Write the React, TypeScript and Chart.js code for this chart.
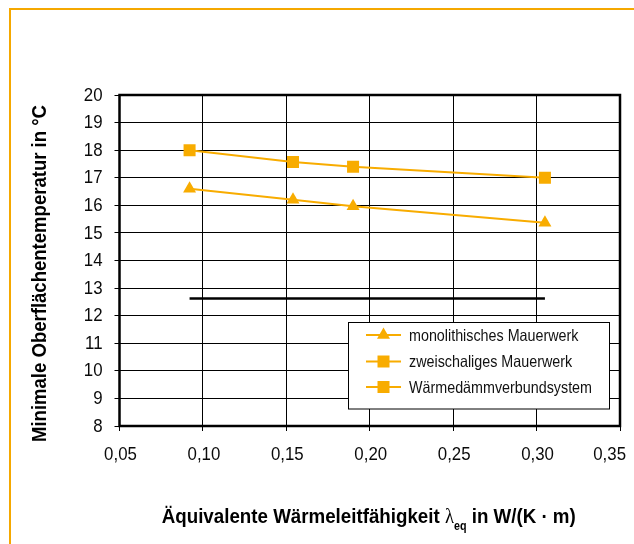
import React, { useEffect, useRef } from "react";
import { Chart, registerables } from "chart.js";

Chart.register(...registerables);

const xValues = [0.092, 0.154, 0.19, 0.305];
const monolithisch = [16.6, 16.2, 15.97, 15.37];
const zweischalig = [18.0, 17.57, 17.4, 17.0];
const wdvs = [12.62, 12.62, 12.62, 12.62];
const seriesNames = ["monolithisches Mauerwerk", "zweischaliges Mauerwerk", "Wärmedämmverbundsystem"];
const yTitle = "Minimale Oberflächentemperatur in °C";
const xTitleA = "Äquivalente Wärmeleitfähigkeit ";
const xTitleLambda = "λ";
const xTitleSub = "eq";
const xTitleB = " in W/(K · m)";

const ORANGE = "#F8AC00";
const FONT = "'Liberation Sans', Arial, sans-serif";

function pts(ys: number[]) {
  return xValues.map((x, i) => ({ x, y: ys[i] }));
}

function fmtX(v: number) {
  return v.toFixed(2).replace(".", ",");
}

// draw horizontally condensed text
function condText(
  ctx: CanvasRenderingContext2D,
  text: string,
  x: number,
  y: number,
  font: string,
  sx: number,
  align: "left" | "center" | "right",
  baseline: CanvasTextBaseline,
  maxRight?: number
) {
  ctx.save();
  ctx.font = font;
  ctx.textBaseline = baseline;
  const w = ctx.measureText(text).width * sx;
  let left = x;
  if (align === "center") left = x - w / 2;
  else if (align === "right") left = x - w;
  if (maxRight !== undefined && left + w > maxRight) left = maxRight - w;
  ctx.translate(left, y);
  ctx.scale(sx, 1);
  ctx.textAlign = "left";
  ctx.fillText(text, 0, 0);
  ctx.restore();
  return w;
}

const framePlugin = {
  id: "frame",
  afterDatasetsDraw(chart: any) {
    const { ctx, chartArea: a } = chart;
    ctx.save();
    ctx.strokeStyle = "#000";
    ctx.lineWidth = 2.5;
    ctx.strokeRect(a.left, a.top, a.right - a.left, a.bottom - a.top);
    ctx.restore();
  },
};

function drawMarker(ctx: CanvasRenderingContext2D, style: string, x: number, y: number) {
  ctx.fillStyle = ORANGE;
  ctx.beginPath();
  if (style === "triangle") {
    const r = 7.5;
    ctx.moveTo(x, y - r);
    ctx.lineTo(x + r * 0.866, y + r / 2);
    ctx.lineTo(x - r * 0.866, y + r / 2);
    ctx.closePath();
  } else {
    ctx.rect(x - 6, y - 6, 12, 12);
  }
  ctx.fill();
}

const overlayPlugin = {
  id: "overlay",
  afterDraw(chart: any) {
    const { ctx, chartArea: a } = chart;
    const xs = chart.scales.x;
    const ys = chart.scales.y;
    ctx.save();
    ctx.fillStyle = "#0a0a0a";
    const tickFont = `18.5px ${FONT}`;
    xs.ticks.forEach((t: any) => {
      const px = xs.getPixelForValue(t.value);
      condText(ctx, fmtX(t.value), px + 1, 455, tickFont, 0.91, "center", "middle", 626);
    });
    ys.ticks.forEach((t: any) => {
      const py = ys.getPixelForValue(t.value);
      condText(ctx, String(t.value), 102.5, py + 0.5, tickFont, 0.91, "right", "middle");
    });

    // legend
    const lx = 348.5, ly = 322.5, lw = 261, lh = 86.5;
    ctx.fillStyle = "#fff";
    ctx.fillRect(lx, ly, lw, lh);
    ctx.strokeStyle = "#000";
    ctx.lineWidth = 1;
    ctx.strokeRect(lx, ly, lw, lh);
    const styles = ["triangle", "rect", "rect"];
    const rows = [335, 361.5, 387];
    const legFont = `16.5px ${FONT}`;
    ctx.font = legFont;
    const maxW = Math.max(...seriesNames.map((n) => ctx.measureText(n).width));
    const legSx = 183 / maxW;
    seriesNames.forEach((name, i) => {
      const y = rows[i];
      ctx.strokeStyle = ORANGE;
      ctx.lineWidth = 2;
      ctx.beginPath();
      ctx.moveTo(366, y);
      ctx.lineTo(401, y);
      ctx.stroke();
      drawMarker(ctx, styles[i], 383.5, y);
      ctx.fillStyle = "#111";
      condText(ctx, name, 409, y + 1, legFont, legSx, "left", "middle");
    });

    // y title
    ctx.fillStyle = "#000";
    const bold = `bold 21px ${FONT}`;
    ctx.font = bold;
    const ySx = 337 / ctx.measureText(yTitle).width;
    ctx.save();
    ctx.translate(46, 273.5);
    ctx.rotate(-Math.PI / 2);
    condText(ctx, yTitle, 0, 0, bold, ySx, "center", "alphabetic");
    ctx.restore();

    // x title
    const lam = `21px 'Liberation Serif', serif`;
    const sub = `bold 12px ${FONT}`;
    ctx.font = bold;
    const wA = ctx.measureText(xTitleA).width;
    const wB = ctx.measureText(xTitleB).width;
    ctx.font = lam;
    const wL = ctx.measureText(xTitleLambda).width;
    ctx.font = sub;
    const wS = ctx.measureText(xTitleSub).width;
    const total = wA + wL + wS + wB;
    const sx = 414 / total;
    const cx = (a.left + a.right) / 2 - 1;
    let x = cx - (total * sx) / 2;
    const by = 523;
    x += condText(ctx, xTitleA, x, by, bold, sx, "left", "alphabetic");
    x += condText(ctx, xTitleLambda, x, by, lam, sx, "left", "alphabetic");
    x += condText(ctx, xTitleSub, x, by + 7, sub, sx, "left", "alphabetic");
    condText(ctx, xTitleB, x, by, bold, sx, "left", "alphabetic");
    ctx.restore();
  },
};

export default function App() {
  const ref = useRef<HTMLCanvasElement | null>(null);
  useEffect(() => {
    document.body.style.margin = "0";
    document.body.style.overflow = "hidden";
    const canvas = ref.current!;
    const chart = new Chart(canvas, {
      type: "line",
      data: {
        datasets: [
          {
            label: seriesNames[0],
            data: pts(monolithisch),
            borderColor: ORANGE,
            backgroundColor: ORANGE,
            borderWidth: 2,
            pointStyle: "triangle",
            pointRadius: 7.5,
            pointBorderWidth: 0,
          },
          {
            label: seriesNames[1],
            data: pts(zweischalig),
            borderColor: ORANGE,
            backgroundColor: ORANGE,
            borderWidth: 2,
            pointStyle: "rect",
            pointRadius: 8.5,
            pointBorderWidth: 0,
          },
          {
            label: seriesNames[2],
            data: pts(wdvs),
            borderColor: "#000",
            backgroundColor: "#000",
            borderWidth: 2.5,
            pointRadius: 0,
          },
        ],
      },
      options: {
        animation: false,
        responsive: false,
        devicePixelRatio: 1,
        layout: { padding: { left: 0, right: 14, top: 95, bottom: 0 } },
        plugins: { legend: { display: false }, tooltip: { enabled: false }, title: { display: false } },
        scales: {
          x: {
            type: "linear",
            min: 0.05,
            max: 0.35,
            border: { display: false },
            grid: { color: "#000", lineWidth: 1, tickLength: 5, tickColor: "#000" },
            ticks: { stepSize: 0.05, display: false },
            afterFit: (s: any) => {
              s.height = 118;
              s.paddingLeft = 0;
              s.paddingRight = 0;
            },
          },
          y: {
            type: "linear",
            min: 8,
            max: 20,
            border: { display: false },
            grid: { color: "#000", lineWidth: 1, tickLength: 5, tickColor: "#000" },
            ticks: { stepSize: 1, display: false },
            afterFit: (s: any) => {
              s.width = 119.5;
              s.paddingTop = 0;
              s.paddingBottom = 0;
            },
          },
        },
      },
      plugins: [framePlugin, overlayPlugin],
    });
    return () => chart.destroy();
  }, []);
  return (
    <div style={{ position: "relative", width: 634, height: 544, overflow: "hidden", background: "#fff" }}>
      <div
        style={{
          position: "absolute",
          left: 9,
          top: 8,
          width: 700,
          height: 700,
          borderLeft: "2px solid #F5A800",
          borderTop: "2px solid #F5A800",
        }}
      />
      <canvas ref={ref} width={634} height={544} style={{ position: "absolute", left: 0, top: 0, width: 634, height: 544 }} />
    </div>
  );
}
